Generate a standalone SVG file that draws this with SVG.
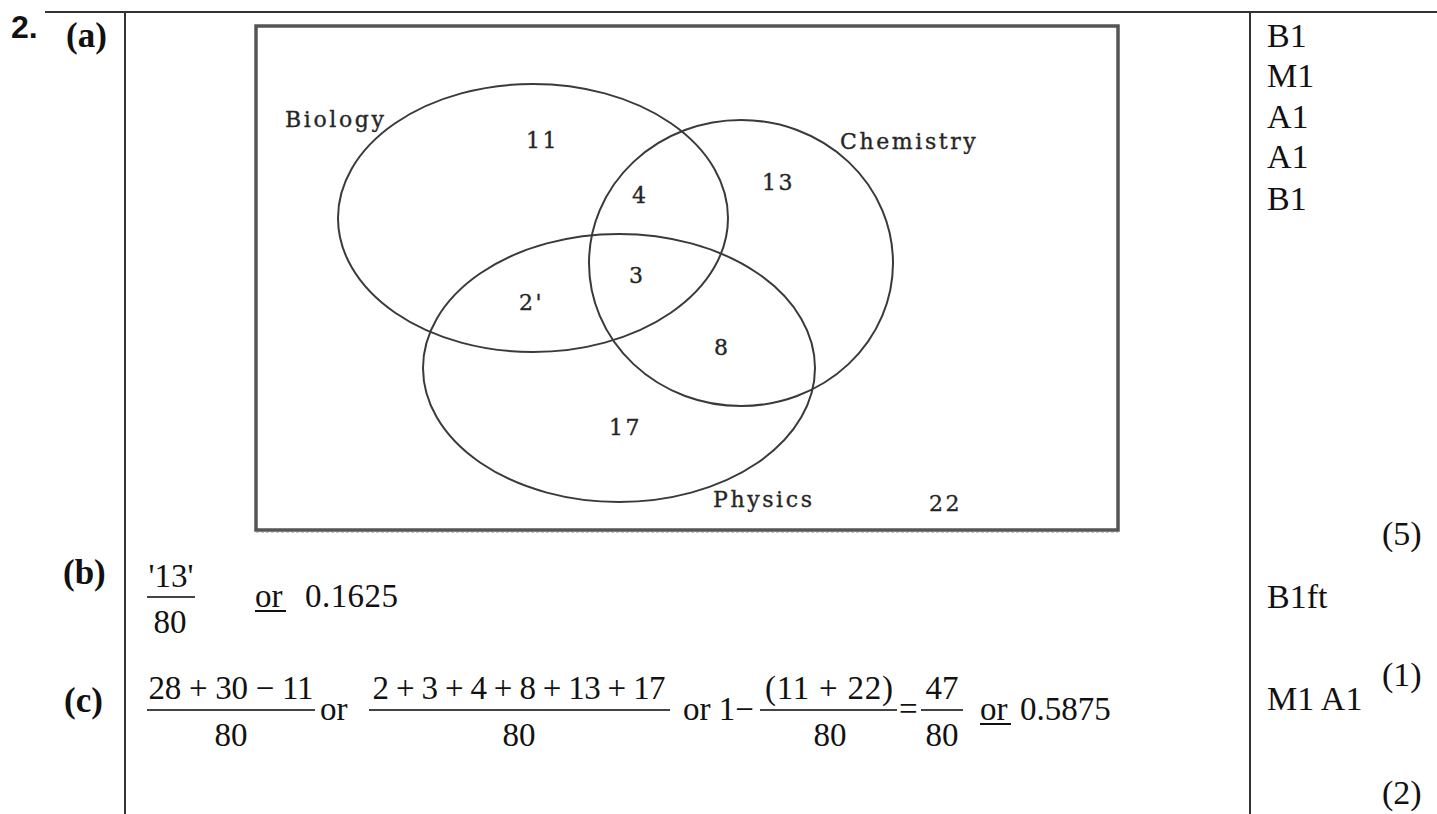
<svg xmlns="http://www.w3.org/2000/svg" width="1437" height="814" viewBox="0 0 1437 814">
<style>
.rule{stroke:#333;stroke-width:2;fill:none}
.venn{stroke:#3a3a3a;stroke-width:2;fill:none}
.box{stroke:#555;stroke-width:3.5;fill:none}
.bar{stroke:#444;stroke-width:2}
.lbl{font-family:"Liberation Serif","Times New Roman",serif;font-weight:bold;font-size:35px;fill:#111}
.m{font-family:"Liberation Serif","Times New Roman",serif;font-size:33px;fill:#111}
.mk{font-family:"Liberation Serif","Times New Roman",serif;font-size:34px;fill:#111}
.v{font-family:"DejaVu Serif","Liberation Serif",serif;font-size:22px;letter-spacing:2.6px;fill:#262626;stroke:#262626;stroke-width:0.35}
</style>
<rect width="1437" height="814" fill="#fff"/>
<g id="frame">
<line class="rule" x1="45" y1="12" x2="1437" y2="12"/>
<line class="rule" x1="125" y1="12" x2="125" y2="814"/>
<line class="rule" x1="1250" y1="12" x2="1250" y2="814"/>
<text x="11" y="38" font-family="Liberation Sans, Arial, sans-serif" font-weight="bold" font-size="32" fill="#111">2.</text>
<text class="lbl" x="66" y="47">(a)</text>
<text class="lbl" x="63" y="584">(b)</text>
<text class="lbl" x="64" y="712">(c)</text>
</g>
<g id="venn">
<rect class="box" x="256" y="26" width="862" height="504"/>
<line x1="256" y1="532.5" x2="1118" y2="532.5" stroke="#b9c9dc" stroke-width="1" stroke-dasharray="3,2"/>
<ellipse id="biology" class="venn" cx="533" cy="218" rx="195" ry="134"/>
<ellipse id="chemistry" class="venn" cx="741" cy="263" rx="152" ry="143"/>
<ellipse id="physics" class="venn" cx="619" cy="368" rx="196" ry="134"/>
<text class="v" x="285" y="127">Biology</text>
<text class="v" x="840" y="149">Chemistry</text>
<text class="v" x="713" y="507">Physics</text>
<text class="v" x="526" y="148">11</text>
<text class="v" x="632" y="203">4</text>
<text class="v" x="762" y="190">13</text>
<text class="v" x="629" y="283">3</text>
<text class="v" x="519" y="310">2'</text>
<text class="v" x="714" y="355">8</text>
<text class="v" x="609" y="435">17</text>
<text class="v" x="929" y="511">22</text>
</g>
<g id="marks">
<text class="mk" x="1267" y="47">B1</text>
<text class="mk" x="1267" y="87">M1</text>
<text class="mk" x="1267" y="128">A1</text>
<text class="mk" x="1267" y="168">A1</text>
<text class="mk" x="1267" y="210">B1</text>
<text class="mk" x="1382" y="545">(5)</text>
<text class="mk" x="1267" y="608">B1ft</text>
<text class="mk" x="1382" y="686">(1)</text>
<text class="mk" x="1267" y="710">M1 A1</text>
<text class="mk" x="1382" y="804">(2)</text>
</g>
<g id="part-b">
<text class="m" x="171" y="587" text-anchor="middle">'13'</text>
<line class="bar" x1="147" y1="597" x2="195" y2="597"/>
<text class="m" x="170" y="633" text-anchor="middle">80</text>
<text class="m" x="255" y="607">or</text>
<line x1="255" y1="611" x2="286" y2="611" stroke="#111" stroke-width="2"/>
<text class="m" x="305" y="607" textLength="93">0.1625</text>
</g>
<g id="part-c">
<text class="m" x="231" y="699" text-anchor="middle" textLength="165">28 + 30 − 11</text>
<line class="bar" x1="147" y1="710" x2="315" y2="710"/>
<text class="m" x="231" y="746" text-anchor="middle">80</text>
<text class="m" x="320" y="720">or</text>
<text class="m" x="519" y="699" text-anchor="middle" textLength="293">2 + 3 + 4 + 8 + 13 + 17</text>
<line class="bar" x1="369" y1="710" x2="670" y2="710"/>
<text class="m" x="519" y="746" text-anchor="middle">80</text>
<text class="m" x="683" y="720">or 1−</text>
<text class="m" x="829" y="699" text-anchor="middle" textLength="128">(11 + 22)</text>
<line class="bar" x1="760" y1="710" x2="897" y2="710"/>
<text class="m" x="830" y="746" text-anchor="middle">80</text>
<text class="m" x="899" y="720">=</text>
<text class="m" x="942" y="699" text-anchor="middle">47</text>
<line class="bar" x1="921" y1="710" x2="963" y2="710"/>
<text class="m" x="942" y="746" text-anchor="middle">80</text>
<text class="m" x="980" y="720">or</text>
<line x1="980" y1="724" x2="1011" y2="724" stroke="#111" stroke-width="2"/>
<text class="m" x="1020" y="720" font-size="35">0.5875</text>
</g>
</svg>
